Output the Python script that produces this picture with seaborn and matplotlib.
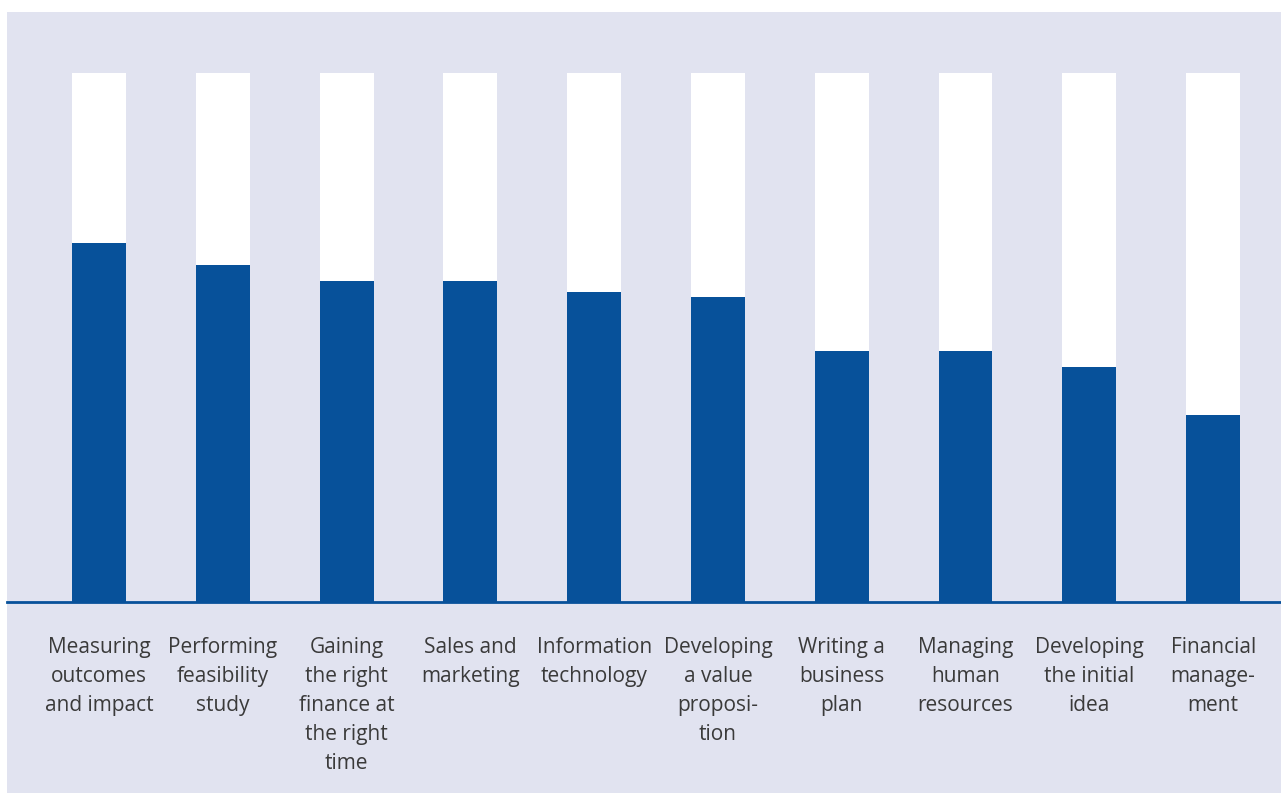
import matplotlib
matplotlib.use("Agg")
import matplotlib.pyplot as plt
import seaborn as sns
import pandas as pd
from matplotlib.patches import Rectangle

categories = [
    "Measuring\noutcomes\nand impact",
    "Performing\nfeasibility\nstudy",
    "Gaining\nthe right\nfinance at\nthe right\ntime",
    "Sales and\nmarketing",
    "Information\ntechnology",
    "Developing\na value\nproposi-\ntion",
    "Writing a\nbusiness\nplan",
    "Managing\nhuman\nresources",
    "Developing\nthe initial\nidea",
    "Financial\nmanage-\nment",
]
values = [67.9, 63.7, 60.7, 60.7, 58.6, 57.7, 47.4, 47.4, 44.4, 35.3]
totals = [100] * len(categories)

BG = "#e1e3f0"
BLUE = "#07519a"
TEXT = "#3a3a3a"

sns.set_style("white")
plt.rcParams["font.family"] = ["Open Sans", "DejaVu Sans"]

W, H = 1281, 794
fig = plt.figure(figsize=(W / 100, H / 100), dpi=100, facecolor="white")
fig.patches.append(Rectangle((7 / W, 1 - 793 / H), 1 - 7 / W, (793 - 12) / H,
                             transform=fig.transFigure, facecolor=BG,
                             edgecolor="none", zorder=-10))

ax = fig.add_axes([7 / W, 1 - 602 / H, 1 - 7 / W, (602 - 73) / H])
ax.set_facecolor("none")
ax.set_zorder(5)

df = pd.DataFrame({"cat": categories, "val": values, "tot": totals})
sns.barplot(data=df, x="cat", y="tot", color="white", width=0.435,
            saturation=1, linewidth=0, ax=ax, zorder=2)
sns.barplot(data=df, x="cat", y="val", color=BLUE, width=0.435,
            saturation=1, linewidth=0, ax=ax, zorder=3)

ax.set_xlim(-0.743, 9.548)
ax.set_ylim(0, 100)
ax.set_xlabel("")
ax.set_ylabel("")
ax.set_yticks([])
ax.tick_params(axis="x", length=0, pad=25, labelsize=15, labelcolor=TEXT)
for lbl in ax.get_xticklabels():
    lbl.set_linespacing(1.5)
    lbl.set_multialignment("center")
for s in ["top", "left", "right"]:
    ax.spines[s].set_visible(False)
ax.spines["bottom"].set_color(BLUE)
ax.spines["bottom"].set_linewidth(2)
ax.spines["bottom"].set_zorder(5)

fig.savefig("out.png", dpi=100, facecolor="white")
